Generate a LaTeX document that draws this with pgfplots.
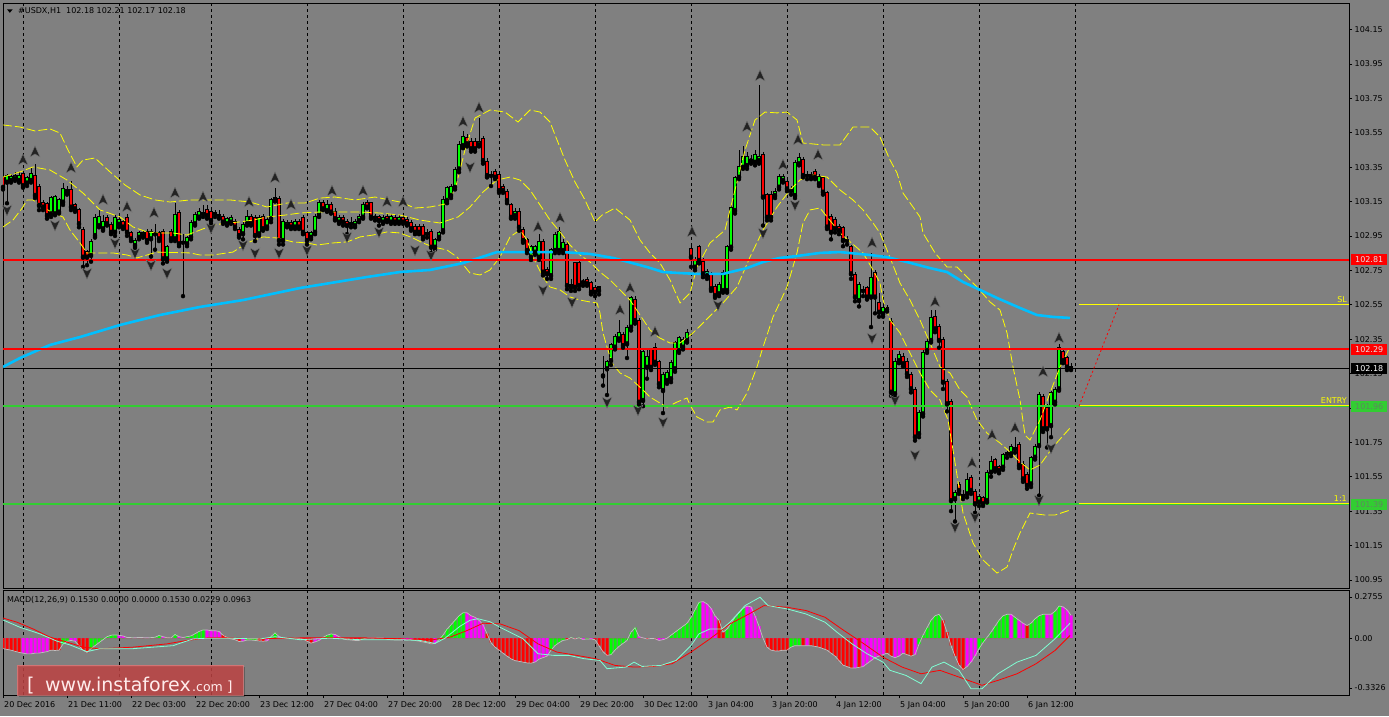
\documentclass[border=0pt]{standalone}
\usepackage{fontspec}
\setmainfont{DejaVu Sans}
\usepackage{pgfplots}
\usepackage{pgfplotstable}
\pgfplotsset{compat=1.18}
\newcommand{\lab}{\fontsize{8}{9.6}\selectfont}
\definecolor{bg}{RGB}{128,128,128}
\definecolor{bull}{RGB}{0,255,0}
\definecolor{bear}{RGB}{255,0,0}
\definecolor{mmag}{RGB}{255,0,255}
\definecolor{maline}{RGB}{0,191,255}
\definecolor{aqua}{RGB}{127,255,212}
\definecolor{silv}{RGB}{192,192,192}
\definecolor{lime2}{RGB}{50,205,50}
\definecolor{gtext}{RGB}{95,135,95}
\definecolor{yel}{RGB}{255,255,0}
\definecolor{wm}{RGB}{200,70,70}
\definecolor{frac}{RGB}{35,35,35}
\pgfdeclareplotmark{fup}{%
 \pgfpathmoveto{\pgfqpoint{0pt}{6pt}}%
 \pgfpathlineto{\pgfqpoint{5pt}{-5pt}}%
 \pgfpathlineto{\pgfqpoint{0pt}{-2pt}}%
 \pgfpathlineto{\pgfqpoint{-5pt}{-5pt}}%
 \pgfpathclose\pgfusepathqfillstroke}
\pgfdeclareplotmark{fdown}{%
 \pgfpathmoveto{\pgfqpoint{0pt}{-6pt}}%
 \pgfpathlineto{\pgfqpoint{5pt}{5pt}}%
 \pgfpathlineto{\pgfqpoint{0pt}{2pt}}%
 \pgfpathlineto{\pgfqpoint{-5pt}{5pt}}%
 \pgfpathclose\pgfusepathqfillstroke}

\pgfplotstableread[row sep=\\]{
x o h l c\\
3 103.29 103.31 103.22 103.235\\
7 103.265 103.31 103.14 103.30\\
11 103.275 103.31 103.26 103.29\\
15 103.285 103.32 103.27 103.30\\
19 103.275 103.32 103.26 103.30\\
23 103.31 103.33 103.23 103.245\\
27 103.26 103.30 103.24 103.285\\
31 103.275 103.35 103.26 103.31\\
35 103.30 103.37 103.17 103.188\\
39 103.235 103.25 103.10 103.13\\
43 103.14 103.16 103.10 103.12\\
47 103.135 103.15 103.05 103.071\\
51 103.081 103.18 103.06 103.168\\
55 103.081 103.19 103.07 103.178\\
59 103.091 103.17 103.08 103.159\\
63 103.149 103.26 103.13 103.22\\
67 103.217 103.24 103.19 103.207\\
71 103.217 103.27 103.10 103.12\\
75 103.13 103.14 103.09 103.11\\
79 103.10 103.11 103.00 103.023\\
83 102.984 103.00 102.77 102.829\\
87 102.858 102.87 102.78 102.829\\
91 102.839 102.93 102.80 102.916\\
95 102.955 103.08 102.94 103.052\\
99 103.013 103.10 103.00 103.062\\
103 102.994 103.07 102.98 103.033\\
107 103.052 103.07 103.01 103.023\\
111 103.013 103.03 102.96 102.974\\
115 102.974 103.07 102.95 103.052\\
119 103.02 103.06 103.00 103.04\\
123 103.033 103.05 102.99 103.004\\
127 103.052 103.08 102.95 102.974\\
131 102.965 102.98 102.92 102.936\\
135 102.897 102.94 102.88 102.92\\
139 102.945 102.98 102.93 102.965\\
143 102.955 102.98 102.94 102.965\\
147 102.974 102.99 102.91 102.926\\
151 102.936 102.99 102.83 102.974\\
155 102.965 103.02 102.87 102.965\\
159 102.965 102.98 102.92 102.936\\
163 102.974 102.99 102.79 102.819\\
167 102.819 102.90 102.80 102.887\\
171 102.974 102.99 102.92 102.936\\
175 102.936 103.14 102.92 103.071\\
179 103.081 103.10 102.89 102.907\\
183 102.916 102.96 102.60 102.916\\
187 102.907 102.95 102.89 102.936\\
191 102.945 103.04 102.93 103.023\\
195 103.023 103.09 103.01 103.071\\
199 103.062 103.11 103.05 103.091\\
203 103.081 103.13 103.06 103.081\\
207 103.10 103.13 103.05 103.071\\
211 103.091 103.11 103.02 103.042\\
215 103.081 103.10 103.06 103.081\\
219 103.071 103.10 103.05 103.071\\
223 103.062 103.08 103.02 103.033\\
227 103.023 103.06 103.01 103.046\\
231 103.033 103.07 103.02 103.052\\
235 103.033 103.05 102.99 103.004\\
239 102.984 103.00 102.94 102.955\\
243 102.965 103.03 102.93 103.013\\
247 103.023 103.10 103.01 103.062\\
251 103.062 103.08 103.01 103.023\\
255 103.052 103.07 102.92 102.955\\
259 102.965 103.07 102.95 103.052\\
263 103.062 103.08 102.98 102.994\\
267 103.004 103.06 102.99 103.042\\
271 103.052 103.17 103.03 103.159\\
275 103.168 103.23 103.15 103.159\\
279 103.163 103.18 102.90 102.926\\
283 102.926 103.05 102.90 103.033\\
287 103.013 103.04 103.00 103.023\\
291 103.023 103.04 102.99 103.004\\
295 103.004 103.05 102.99 103.033\\
299 103.033 103.05 102.99 103.004\\
303 103.052 103.07 102.96 102.974\\
307 102.965 102.98 102.90 102.926\\
311 102.945 102.98 102.93 102.965\\
315 102.974 103.08 102.96 103.062\\
319 103.071 103.16 103.06 103.139\\
323 103.139 103.16 103.10 103.11\\
327 103.10 103.16 103.09 103.13\\
331 103.13 103.15 103.08 103.091\\
335 103.091 103.11 103.04 103.052\\
339 103.033 103.07 103.02 103.052\\
343 103.052 103.07 103.01 103.033\\
347 103.033 103.05 102.96 103.013\\
351 103.023 103.06 103.00 103.023\\
355 103.013 103.05 103.00 103.033\\
359 103.042 103.08 103.03 103.062\\
363 103.062 103.15 103.05 103.13\\
367 103.139 103.16 103.11 103.12\\
371 103.139 103.15 103.05 103.062\\
375 103.062 103.08 103.04 103.062\\
379 103.062 103.07 103.01 103.042\\
383 103.033 103.07 103.02 103.052\\
387 103.062 103.08 103.03 103.042\\
391 103.033 103.08 103.02 103.062\\
395 103.052 103.07 103.02 103.033\\
399 103.033 103.07 103.02 103.052\\
403 103.052 103.07 103.02 103.033\\
407 103.042 103.06 103.01 103.023\\
411 103.023 103.04 102.98 102.994\\
415 103.004 103.02 102.96 102.974\\
419 103.004 103.02 102.96 102.974\\
423 103.004 103.02 102.93 102.945\\
427 102.965 102.99 102.94 102.965\\
431 102.974 102.99 102.85 102.887\\
435 102.887 102.94 102.87 102.926\\
439 102.945 102.98 102.93 102.965\\
443 102.984 103.18 102.97 103.159\\
447 103.159 103.24 103.14 103.226\\
451 103.188 103.25 103.17 103.235\\
455 103.235 103.35 103.22 103.333\\
459 103.342 103.50 103.32 103.478\\
463 103.478 103.56 103.46 103.527\\
467 103.517 103.54 103.47 103.488\\
471 103.497 103.52 103.44 103.459\\
475 103.497 103.52 103.44 103.459\\
479 103.482 103.633 103.47 103.497\\
483 103.511 103.53 103.37 103.391\\
487 103.381 103.40 103.29 103.304\\
491 103.304 103.33 103.24 103.304\\
495 103.323 103.34 103.28 103.294\\
499 103.304 103.32 103.20 103.216\\
503 103.236 103.25 103.20 103.216\\
507 103.207 103.22 103.14 103.158\\
511 103.129 103.14 103.05 103.061\\
515 103.071 103.11 103.05 103.09\\
519 103.09 103.11 102.98 103.003\\
523 102.984 103.00 102.91 102.926\\
527 102.926 102.94 102.85 102.868\\
531 102.829 102.90 102.81 102.887\\
535 102.858 102.90 102.84 102.887\\
539 102.829 102.96 102.81 102.916\\
543 102.916 102.93 102.72 102.742\\
547 102.751 102.77 102.70 102.732\\
551 102.722 102.88 102.70 102.868\\
555 102.868 102.97 102.85 102.955\\
559 102.868 103.00 102.85 102.974\\
563 102.868 102.93 102.85 102.906\\
567 102.897 102.92 102.64 102.664\\
571 102.664 102.70 102.63 102.654\\
575 102.79 102.80 102.63 102.654\\
579 102.79 102.81 102.64 102.664\\
583 102.684 102.70 102.66 102.682\\
587 102.693 102.71 102.66 102.674\\
591 102.674 102.69 102.61 102.625\\
595 102.645 102.66 102.60 102.625\\
599 102.635 102.66 102.61 102.65\\
603 102.143 102.25 102.08 102.139\\
607 102.18 102.23 102.025 102.218\\
611 102.228 102.33 102.20 102.315\\
615 102.306 102.38 102.29 102.364\\
619 102.354 102.46 102.34 102.383\\
623 102.373 102.39 102.30 102.315\\
627 102.325 102.43 102.24 102.412\\
631 102.422 102.60 102.40 102.587\\
635 102.577 102.60 102.44 102.461\\
639 102.457 102.47 101.97 101.986\\
643 101.996 102.29 101.96 102.277\\
647 102.189 102.30 102.12 102.247\\
651 102.286 102.30 102.17 102.189\\
655 102.296 102.33 102.20 102.218\\
659 102.218 102.23 102.07 102.092\\
663 102.054 102.16 101.92 102.141\\
667 102.112 102.17 102.09 102.151\\
671 102.122 102.23 102.10 102.209\\
675 102.18 102.34 102.16 102.325\\
679 102.286 102.37 102.27 102.354\\
683 102.306 102.36 102.29 102.344\\
687 102.344 102.41 102.33 102.383\\
691 102.874 102.91 102.77 102.829\\
695 102.771 102.83 102.75 102.81\\
699 102.887 102.90 102.79 102.81\\
703 102.80 102.82 102.71 102.732\\
707 102.722 102.76 102.70 102.742\\
711 102.722 102.74 102.63 102.645\\
715 102.654 102.67 102.59 102.606\\
719 102.616 102.68 102.60 102.664\\
723 102.635 102.75 102.62 102.732\\
727 102.635 102.90 102.62 102.887\\
731 102.887 103.13 102.87 103.11\\
735 103.10 103.30 103.08 103.284\\
739 103.294 103.45 103.28 103.352\\
743 103.352 103.47 103.34 103.41\\
747 103.362 103.44 103.34 103.41\\
751 103.389 103.42 103.37 103.393\\
755 103.381 103.45 103.36 103.42\\
759 103.391 103.83 103.37 103.41\\
763 103.42 103.44 103.01 103.178\\
767 103.187 103.20 103.04 103.061\\
771 103.187 103.21 103.04 103.061\\
775 103.187 103.23 103.17 103.207\\
779 103.236 103.31 103.22 103.294\\
783 103.275 103.31 103.26 103.294\\
787 103.265 103.28 103.21 103.226\\
791 103.216 103.24 103.19 103.216\\
795 103.187 103.39 103.17 103.372\\
799 103.372 103.43 103.36 103.401\\
803 103.391 103.41 103.29 103.304\\
807 103.304 103.33 103.28 103.304\\
811 103.304 103.32 103.28 103.294\\
815 103.323 103.34 103.28 103.294\\
819 103.255 103.31 103.24 103.294\\
823 103.284 103.30 103.19 103.207\\
827 103.197 103.21 102.99 103.004\\
831 103.062 103.08 102.93 102.974\\
835 103.042 103.06 102.97 102.994\\
839 103.004 103.02 102.96 102.984\\
843 102.994 103.01 102.89 102.926\\
847 102.926 102.95 102.90 102.926\\
851 102.887 102.90 102.70 102.732\\
855 102.723 102.74 102.57 102.597\\
859 102.577 102.68 102.54 102.664\\
863 102.635 102.66 102.60 102.635\\
867 102.645 102.66 102.58 102.597\\
871 102.597 102.85 102.42 102.703\\
875 102.732 102.75 102.50 102.597\\
879 102.558 102.62 102.48 102.509\\
883 102.50 102.55 102.48 102.529\\
887 102.529 102.55 102.51 102.529\\
891 102.451 102.47 102.02 102.044\\
895 102.035 102.24 102.01 102.219\\
899 102.228 102.28 102.21 102.257\\
903 102.248 102.27 102.19 102.209\\
907 102.219 102.24 102.13 102.151\\
911 102.141 102.16 102.04 102.064\\
915 102.054 102.07 101.76 101.783\\
919 101.802 101.94 101.78 101.918\\
923 101.918 102.29 101.90 102.267\\
927 102.287 102.36 102.27 102.335\\
931 102.345 102.52 102.33 102.471\\
935 102.48 102.52 102.39 102.412\\
939 102.422 102.44 102.30 102.345\\
943 102.345 102.36 102.06 102.102\\
947 102.102 102.12 101.93 101.976\\
951 101.986 102.00 101.35 101.414\\
955 101.424 101.47 101.29 101.453\\
959 101.502 101.52 101.45 101.473\\
963 101.443 101.47 101.42 101.443\\
967 101.453 101.57 101.43 101.531\\
971 101.54 101.56 101.45 101.473\\
975 101.463 101.48 101.34 101.395\\
979 101.405 101.45 101.38 101.434\\
983 101.424 101.44 101.38 101.395\\
987 101.414 101.59 101.40 101.569\\
991 101.579 101.67 101.55 101.637\\
995 101.647 101.66 101.58 101.599\\
999 101.608 101.62 101.57 101.589\\
1003 101.608 101.69 101.59 101.676\\
1007 101.686 101.70 101.66 101.686\\
1011 101.686 101.74 101.67 101.724\\
1015 101.715 101.78 101.69 101.715\\
1019 101.734 101.75 101.60 101.618\\
1023 101.618 101.64 101.52 101.54\\
1027 101.56 101.58 101.48 101.502\\
1031 101.511 101.67 101.49 101.657\\
1035 101.666 101.74 101.65 101.724\\
1039 101.734 102.04 101.44 102.025\\
1043 102.015 102.03 101.81 101.831\\
1047 101.947 101.97 101.72 101.831\\
1051 101.85 102.05 101.78 102.035\\
1055 101.986 102.07 101.97 102.054\\
1059 102.064 102.32 102.05 102.296\\
1063 102.277 102.30 102.21 102.228\\
1067 102.238 102.25 102.17 102.19\\
1071 102.18 102.21 102.17 102.185\\
}\candles

\pgfplotstableread[row sep=\\]{
x y\\
23 103.391\\ 35 103.438\\ 71 103.345\\ 103 103.159\\ 127 103.118\\ 154 103.083\\
175 103.199\\ 203 103.176\\ 249 103.147\\ 275 103.287\\ 291 103.130\\ 332 103.211\\
363 103.211\\ 387 103.147\\ 403 103.147\\ 463 103.612\\ 479 103.694\\ 538 103.002\\
560 103.054\\ 620 102.519\\ 630 102.647\\ 655 102.391\\ 692 102.973\\ 747 103.583\\
760 103.880\\ 783 103.362\\ 798 103.508\\ 818 103.420\\ 872 102.909\\ 935 102.566\\
972 101.630\\ 992 101.792\\ 1015 101.833\\ 1043 102.159\\ 1059 102.356\\
}\fup

\pgfplotstableread[row sep=\\]{
x y\\
7 103.101\\ 55 103.013\\ 87 102.734\\ 115 102.909\\ 135 102.851\\ 151 102.781\\
167 102.734\\ 211 102.996\\ 243 102.897\\ 255 102.851\\ 279 102.851\\ 307 102.868\\
347 102.944\\ 379 102.973\\ 415 102.868\\ 431 102.839\\ 470 103.351\\ 543 102.635\\
572 102.566\\ 607 101.984\\ 638 101.938\\ 663 101.868\\ 718 102.548\\ 763 102.967\\
795 103.130\\ 872 102.356\\ 895 101.996\\ 915 101.676\\ 955 101.258\\ 975 101.316\\
1039 101.415\\ 1051 101.717\\
}\fdown

\pgfplotstableread[row sep=\\]{
x y\\
3 103.595\\ 20 103.583\\ 35 103.560\\ 50 103.572\\ 60 103.548\\ 68 103.449\\ 77 103.351\\
83 103.391\\ 95 103.403\\ 110 103.322\\ 125 103.246\\ 140 103.188\\ 155 103.159\\ 170 103.147\\
190 103.159\\ 210 103.159\\ 230 103.159\\ 250 103.147\\ 267 103.118\\ 287 103.141\\ 305 103.141\\
320 103.170\\ 335 103.176\\ 355 103.159\\ 375 103.176\\ 400 103.147\\ 415 103.112\\ 430 103.118\\
445 103.135\\ 455 103.217\\ 465 103.449\\ 475 103.635\\ 490 103.682\\ 505 103.670\\ 518 103.612\\
530 103.682\\ 540 103.670\\ 550 103.612\\ 557 103.508\\ 565 103.391\\ 575 103.263\\ 585 103.159\\
595 103.031\\ 602 103.071\\ 615 103.112\\ 630 103.042\\ 640 102.926\\ 650 102.851\\ 660 102.792\\
670 102.694\\ 680 102.560\\ 690 102.618\\ 697 102.769\\ 710 102.909\\ 725 102.984\\ 735 103.217\\
745 103.449\\ 755 103.624\\ 765 103.670\\ 777 103.665\\ 787 103.670\\ 797 103.624\\ 803 103.490\\
823 103.479\\ 840 103.479\\ 853 103.583\\ 870 103.583\\ 880 103.525\\ 890 103.391\\ 897 103.316\\
903 103.199\\ 913 103.118\\ 920 103.060\\ 923 102.967\\ 935 102.851\\ 947 102.769\\ 957 102.769\\
967 102.711\\ 977 102.653\\ 990 102.566\\ 1000 102.519\\ 1007 102.386\\ 1013 102.188\\ 1020 101.996\\
1025 101.792\\ 1030 101.763\\ 1040 101.880\\ 1050 102.037\\ 1060 102.188\\ 1070 102.304\\
}\bbu

\pgfplotstableread[row sep=\\]{
x y\\
3 103.292\\ 20 103.322\\ 33 103.351\\ 50 103.333\\ 67 103.275\\ 83 103.199\\ 100 103.101\\
120 103.060\\ 133 103.002\\ 147 102.973\\ 160 102.967\\ 173 102.967\\ 187 102.955\\ 200 102.984\\
213 103.013\\ 227 103.025\\ 240 103.031\\ 253 103.042\\ 267 103.060\\ 285 103.071\\ 300 103.083\\
320 103.089\\ 340 103.089\\ 360 103.089\\ 380 103.083\\ 400 103.071\\ 420 103.042\\ 440 103.025\\
458 103.060\\ 470 103.118\\ 483 103.205\\ 497 103.275\\ 510 103.292\\ 520 103.275\\ 530 103.217\\
540 103.130\\ 550 103.042\\ 560 102.973\\ 570 102.897\\ 580 102.839\\ 590 102.798\\ 600 102.740\\
610 102.694\\ 620 102.636\\ 630 102.577\\ 640 102.490\\ 650 102.403\\ 660 102.356\\ 670 102.327\\
680 102.327\\ 693 102.386\\ 708 102.473\\ 723 102.560\\ 737 102.653\\ 750 102.827\\ 763 102.984\\
777 103.118\\ 790 103.217\\ 800 103.275\\ 813 103.304\\ 827 103.292\\ 840 103.217\\ 853 103.159\\
863 103.101\\ 873 103.025\\ 880 102.967\\ 887 102.868\\ 900 102.676\\ 910 102.577\\ 920 102.461\\
933 102.287\\ 940 102.188\\ 950 102.153\\ 960 102.054\\ 967 102.013\\ 977 101.880\\ 987 101.804\\
1000 101.746\\ 1010 101.694\\ 1020 101.636\\ 1030 101.589\\ 1040 101.618\\ 1053 101.723\\ 1070 101.833\\
}\bbm

\pgfplotstableread[row sep=\\]{
x y\\
3 103.002\\ 13 103.042\\ 23 103.118\\ 27 103.159\\ 33 103.159\\ 43 103.118\\ 53 103.083\\
63 103.060\\ 70 102.984\\ 80 102.909\\ 87 102.851\\ 100 102.851\\ 113 102.851\\ 127 102.839\\
137 102.822\\ 147 102.839\\ 157 102.856\\ 190 102.851\\ 200 102.839\\ 213 102.839\\ 227 102.851\\
233 102.856\\ 247 102.909\\ 263 102.944\\ 277 102.938\\ 293 102.915\\ 307 102.909\\ 317 102.897\\
333 102.909\\ 347 102.915\\ 360 102.944\\ 373 102.955\\ 387 102.973\\ 400 102.967\\ 413 102.938\\
423 102.909\\ 433 102.886\\ 447 102.868\\ 457 102.827\\ 470 102.734\\ 480 102.723\\ 490 102.752\\
500 102.827\\ 510 102.944\\ 520 102.984\\ 527 102.926\\ 533 102.827\\ 543 102.711\\ 550 102.653\\
560 102.636\\ 570 102.595\\ 580 102.577\\ 590 102.566\\ 597 102.560\\ 600 102.502\\ 603 102.386\\
607 102.304\\ 612 102.211\\ 620 102.153\\ 630 102.124\\ 643 102.054\\ 650 102.013\\ 660 101.978\\
667 101.955\\ 677 101.984\\ 687 102.008\\ 690 101.967\\ 697 101.897\\ 707 101.868\\ 713 101.868\\
720 101.938\\ 730 101.955\\ 737 101.938\\ 747 102.037\\ 757 102.188\\ 763 102.304\\ 773 102.478\\
787 102.653\\ 797 102.851\\ 803 103.025\\ 810 103.101\\ 820 103.112\\ 840 102.967\\ 863 102.851\\
873 102.752\\ 880 102.676\\ 883 102.577\\ 890 102.461\\ 900 102.386\\ 910 102.269\\ 920 102.153\\
930 102.054\\ 940 101.996\\ 948 101.880\\ 953 101.705\\ 963 101.339\\ 973 101.165\\ 983 101.066\\
997 100.990\\ 1007 101.025\\ 1013 101.124\\ 1020 101.223\\ 1030 101.339\\ 1045 101.327\\ 1055 101.327\\
1070 101.356\\
}\bbl

\pgfplotstableread[row sep=\\]{
x y\\
3 102.188\\ 20 102.240\\ 50 102.316\\ 80 102.362\\ 120 102.432\\ 160 102.490\\ 200 102.537\\
243 102.577\\ 300 102.647\\ 367 102.711\\ 400 102.740\\ 430 102.752\\ 463 102.792\\ 497 102.856\\
530 102.856\\ 563 102.856\\ 590 102.845\\ 613 102.822\\ 647 102.769\\ 663 102.740\\ 680 102.734\\
697 102.729\\ 723 102.729\\ 747 102.763\\ 763 102.798\\ 780 102.822\\ 797 102.833\\ 820 102.851\\
840 102.856\\ 870 102.839\\ 887 102.827\\ 907 102.798\\ 930 102.763\\ 947 102.740\\ 963 102.682\\
980 102.636\\ 997 102.589\\ 1020 102.531\\ 1037 102.490\\ 1053 102.479\\ 1070 102.473\\
}\sma

\pgfplotstableread[row sep=\\]{
x v c\\
3 -0.07 2\\ 7 -0.075 2\\ 11 -0.08 2\\ 15 -0.088 2\\ 19 -0.095 2\\ 23 -0.10 3\\ 27 -0.105 3\\
31 -0.105 3\\ 35 -0.10 3\\ 39 -0.10 3\\ 43 -0.095 3\\ 47 -0.09 3\\ 51 -0.08 2\\ 55 -0.082 2\\
59 -0.08 2\\ 63 -0.04 1\\ 67 -0.02 1\\ 71 -0.015 3\\ 75 -0.02 3\\ 79 -0.05 2\\ 83 -0.08 2\\
87 -0.095 2\\ 91 -0.07 1\\ 95 -0.05 1\\ 99 -0.03 1\\ 103 -0.01 1\\ 107 0.01 1\\ 111 0.02 1\\
115 0.022 1\\ 119 0.02 3\\ 123 0.015 3\\ 127 0.005 3\\ 131 0.004 1\\ 135 0.003 3\\ 139 0.005 1\\
143 0.004 3\\ 147 0.003 3\\ 151 0.004 1\\ 155 0.006 1\\ 159 0.018 1\\ 163 0.01 3\\ 167 0.003 2\\
171 0.002 2\\ 175 0.025 1\\ 179 0.01 3\\ 183 0.005 3\\ 187 0.01 1\\ 191 0.015 1\\ 195 0.03 1\\
199 0.045 1\\ 203 0.055 1\\ 207 0.055 3\\ 211 0.05 3\\ 215 0.05 3\\ 219 0.045 3\\ 223 0.02 2\\
227 0.005 2\\ 231 -0.005 2\\ 235 -0.01 2\\ 239 -0.022 2\\ 243 -0.02 3\\ 247 -0.012 1\\ 251 -0.012 1\\
255 -0.015 1\\ 259 -0.018 2\\ 263 -0.02 2\\ 267 -0.018 3\\ 271 0.01 1\\ 275 0.036 1\\ 279 0.01 3\\
283 0.002 3\\ 287 -0.003 2\\ 291 -0.003 2\\ 295 0.002 1\\ 299 -0.002 2\\ 303 -0.005 2\\ 307 -0.02 2\\
311 -0.033 2\\ 315 -0.025 3\\ 319 -0.015 3\\ 323 0.005 1\\ 327 0.02 1\\ 331 0.028 1\\ 335 0.025 3\\
339 0.01 3\\ 343 -0.005 2\\ 347 -0.01 2\\ 351 -0.012 2\\ 355 -0.015 2\\ 359 -0.015 2\\ 363 -0.005 1\\
367 0.002 1\\ 371 0.002 3\\ 375 0.001 3\\ 379 0.002 1\\ 383 0.002 3\\ 387 -0.008 2\\ 391 -0.01 2\\
395 -0.012 2\\ 399 -0.012 2\\ 403 -0.013 3\\ 407 -0.012 3\\ 411 -0.01 3\\ 415 -0.015 2\\ 419 -0.02 2\\
423 -0.025 2\\ 427 -0.03 2\\ 431 -0.038 2\\ 435 -0.035 3\\ 439 -0.01 1\\ 443 0.02 1\\ 447 0.06 1\\
451 0.09 1\\ 455 0.12 1\\ 459 0.15 1\\ 463 0.17 1\\ 467 0.17 3\\ 471 0.15 3\\ 475 0.14 3\\
479 0.12 3\\ 483 0.09 3\\ 487 0.03 2\\ 491 -0.03 2\\ 495 -0.06 2\\ 499 -0.08 2\\ 503 -0.10 2\\
507 -0.12 2\\ 511 -0.138 2\\ 515 -0.15 2\\ 519 -0.155 2\\ 523 -0.16 2\\ 527 -0.165 2\\ 531 -0.167 2\\
535 -0.16 3\\ 539 -0.14 3\\ 543 -0.13 3\\ 547 -0.12 3\\ 551 -0.08 1\\ 555 -0.05 1\\ 559 -0.03 1\\
563 -0.015 1\\ 567 -0.01 2\\ 571 0.005 1\\ 575 -0.005 2\\ 579 0.003 1\\ 583 -0.008 3\\ 587 -0.005 1\\
591 -0.005 3\\ 595 -0.01 2\\ 599 -0.05 2\\ 603 -0.09 2\\ 607 -0.115 2\\ 611 -0.11 1\\ 615 -0.08 1\\
619 -0.055 1\\ 623 -0.035 1\\ 627 -0.015 1\\ 631 0.04 1\\ 635 0.07 1\\ 639 0.01 3\\ 643 0.002 3\\
647 -0.005 2\\ 651 -0.002 2\\ 655 -0.003 2\\ 659 -0.015 3\\ 663 -0.01 3\\ 667 0.0 1\\ 671 0.02 1\\
675 0.04 1\\ 679 0.06 1\\ 683 0.08 1\\ 687 0.10 1\\ 691 0.14 1\\ 695 0.19 1\\ 699 0.24 1\\
703 0.245 3\\ 707 0.23 3\\ 711 0.2 3\\ 715 0.15 3\\ 719 0.12 2\\ 723 0.04 2\\ 727 0.06 1\\
731 0.1 1\\ 735 0.14 1\\ 739 0.17 1\\ 743 0.2 1\\ 747 0.215 3\\ 751 0.21 3\\ 755 0.15 3\\
759 0.08 3\\ 763 0.0 2\\ 767 -0.06 2\\ 771 -0.08 2\\ 775 -0.085 2\\ 779 -0.085 2\\ 783 -0.08 2\\
787 -0.08 2\\ 791 -0.06 1\\ 795 -0.05 1\\ 799 -0.05 1\\ 803 -0.05 2\\ 807 -0.05 3\\ 811 -0.05 2\\
815 -0.055 2\\ 819 -0.06 2\\ 823 -0.07 2\\ 827 -0.08 2\\ 831 -0.10 2\\ 835 -0.12 2\\ 839 -0.15 2\\
843 -0.18 2\\ 847 -0.19 2\\ 851 -0.2 2\\ 855 -0.2 3\\ 859 -0.195 2\\ 863 -0.19 3\\ 867 -0.17 3\\
871 -0.15 3\\ 875 -0.13 3\\ 879 -0.12 3\\ 883 -0.11 3\\ 887 -0.1 2\\ 891 -0.12 2\\ 895 -0.13 3\\
899 -0.12 3\\ 903 -0.1 3\\ 907 -0.11 2\\ 911 -0.12 2\\ 915 -0.11 3\\ 919 -0.04 1\\ 923 0.02 1\\
927 0.07 1\\ 931 0.12 1\\ 935 0.15 1\\ 939 0.16 1\\ 943 0.12 2\\ 947 0.04 2\\ 951 -0.05 2\\
955 -0.12 2\\ 959 -0.18 2\\ 963 -0.21 2\\ 967 -0.19 3\\ 971 -0.16 3\\ 975 -0.12 3\\ 979 -0.07 1\\
983 -0.03 1\\ 987 0.005 1\\ 991 0.04 1\\ 995 0.08 1\\ 999 0.12 1\\ 1003 0.15 1\\ 1007 0.16 1\\
1011 0.16 3\\ 1015 0.14 1\\ 1019 0.12 3\\ 1023 0.10 3\\ 1027 0.085 2\\ 1031 0.1 1\\ 1035 0.13 1\\
1039 0.15 1\\ 1043 0.16 1\\ 1047 0.16 3\\ 1051 0.16 3\\ 1055 0.18 1\\ 1059 0.215 1\\ 1063 0.21 3\\
1067 0.19 3\\ 1071 0.153 3\\
}\hist

\pgfplotstableread[row sep=\\]{
x y\\
3 0.122\\ 20 0.073\\ 40 0.029\\ 57 -0.02\\ 70 -0.045\\ 87 -0.09\\ 100 -0.07\\ 133 -0.07\\
173 -0.05\\ 193 -0.005\\ 207 0.0\\ 227 0.0\\ 260 -0.005\\ 275 0.01\\ 300 -0.01\\ 330 0.0\\
360 -0.01\\ 400 -0.01\\ 420 -0.015\\ 435 -0.035\\ 445 0.0\\ 460 0.08\\ 470 0.12\\ 478 0.13\\
490 0.11\\ 500 0.073\\ 523 -0.004\\ 538 -0.104\\ 554 -0.115\\ 569 -0.115\\ 584 -0.137\\ 600 -0.149\\
607 -0.204\\ 626 -0.193\\ 634 -0.16\\ 642 -0.189\\ 661 -0.182\\ 676 -0.149\\ 691 -0.049\\ 699 0.029\\
710 0.062\\ 722 0.062\\ 730 0.107\\ 745 0.218\\ 760 0.274\\ 768 0.218\\ 787 0.196\\ 806 0.162\\
825 0.107\\ 837 0.04\\ 852 -0.038\\ 867 -0.104\\ 883 -0.16\\ 890 -0.215\\ 906 -0.249\\ 921 -0.304\\
932 -0.193\\ 944 -0.16\\ 959 -0.215\\ 971 -0.338\\ 982 -0.338\\ 998 -0.238\\ 1017 -0.16\\ 1036 -0.115\\
1055 -0.004\\ 1070 0.1\\
}\macdmain

\pgfplotstableread[row sep=\\]{
x y\\
3 0.135\\ 17 0.107\\ 33 0.062\\ 50 0.007\\ 67 -0.026\\ 83 -0.06\\ 100 -0.071\\ 133 -0.06\\
167 -0.038\\ 187 -0.015\\ 207 0.002\\ 227 0.002\\ 253 -0.004\\ 300 0.002\\ 333 0.002\\ 367 0.002\\
400 -0.004\\ 433 -0.01\\ 450 0.007\\ 467 0.051\\ 483 0.1\\ 500 0.096\\ 519 0.051\\ 538 -0.038\\
557 -0.093\\ 577 -0.115\\ 596 -0.138\\ 615 -0.182\\ 634 -0.193\\ 653 -0.189\\ 672 -0.171\\ 691 -0.093\\
710 -0.004\\ 730 0.096\\ 749 0.162\\ 764 0.218\\ 787 0.207\\ 806 0.185\\ 825 0.14\\ 844 0.051\\
864 -0.038\\ 883 -0.127\\ 902 -0.193\\ 921 -0.238\\ 940 -0.215\\ 959 -0.26\\ 982 -0.315\\ 998 -0.282\\
1017 -0.238\\ 1036 -0.171\\ 1055 -0.082\\ 1070 0.018\\
}\macdsig

\begin{document}
\begin{tikzpicture}[x=1pt,y=1pt]
\path[use as bounding box] (0,0) rectangle (1389,716);
\fill[bg] (0,0) rectangle (1389,716);

\begin{axis}[
  at={(3pt,128pt)}, anchor=south west, scale only axis,
  width=1346pt, height=585pt,
  xmin=3, xmax=1349, ymin=100.903, ymax=104.304,
  axis line style={black, line width=0.8pt},
  xtick={23,119,211,307,403,499,595,691,787,883,979,1075},
  xticklabels={}, xtick style={draw=none},
  xmajorgrids, major grid style={black, line width=0.6pt, dash pattern=on 3pt off 3pt},
  ytick={100.95,101.15,101.35,101.55,101.75,101.95,102.15,102.35,102.55,102.75,102.95,103.15,103.35,103.55,103.75,103.95,104.15},
  yticklabels={100.95,101.15,101.35,101.55,101.75,{},102.15,102.35,102.55,102.75,102.95,103.15,103.35,103.55,103.75,103.95,104.15},
  ytick pos=right, yticklabel pos=right,
  tick align=outside, major tick length=3pt,
  ytick style={black, line width=0.6pt},
  yticklabel style={font=\lab, anchor=west, inner sep=0pt, xshift=2.5pt},
]
% wicks
\addplot[only marks, mark=none, error bars/.cd, y dir=plus, y explicit, error mark=none,
  error bar style={draw=black, line width=0.8pt}]
  table[x=x, y=l, y error plus expr={\thisrow{h}-\thisrow{l}}] {\candles};
% body outlines
\addplot[only marks, mark=none, error bars/.cd, y dir=plus, y explicit, error mark=none,
  error bar style={draw=black, line width=3.4pt}]
  table[x=x, y expr={min(\thisrow{o},\thisrow{c})-0.006}, y error plus expr={abs(\thisrow{c}-\thisrow{o})+0.012}] {\candles};
% bull bodies
\addplot[only marks, mark=none, restrict expr to domain={\thisrow{c}-\thisrow{o}}{0.0001:10},
  error bars/.cd, y dir=plus, y explicit, error mark=none,
  error bar style={draw=bull, line width=1.6pt}]
  table[x=x, y=o, y error plus expr={\thisrow{c}-\thisrow{o}}] {\candles};
% bear bodies
\addplot[only marks, mark=none, restrict expr to domain={\thisrow{o}-\thisrow{c}}{0.0001:10},
  error bars/.cd, y dir=plus, y explicit, error mark=none,
  error bar style={draw=bear, line width=1.6pt}]
  table[x=x, y=c, y error plus expr={\thisrow{o}-\thisrow{c}}] {\candles};
% indicators
\addplot[yel, line width=0.8pt, dash pattern=on 9pt off 3pt] table {\bbu};
\addplot[yel, line width=0.8pt, dash pattern=on 9pt off 3pt] table {\bbm};
\addplot[yel, line width=0.8pt, dash pattern=on 9pt off 3pt] table {\bbl};
\addplot[maline, line width=2.6pt] table {\sma};
% fractals
\addplot[only marks, mark=fup, mark options={fill=frac, draw=black!55, line width=0.4pt}] table {\fup};
\addplot[only marks, mark=fdown, mark options={fill=frac, draw=black!55, line width=0.4pt}] table {\fdown};
% horizontal levels
\addplot[bear, line width=2pt] coordinates {(3,102.81) (1349,102.81)};
\addplot[bear, line width=2pt] coordinates {(3,102.29) (1349,102.29)};
\addplot[black, line width=0.8pt] coordinates {(3,102.18) (1349,102.18)};
\addplot[lime2, line width=2pt] coordinates {(3,101.96) (1349,101.96)};
\addplot[lime2, line width=2pt] coordinates {(3,101.39) (1349,101.39)};
\addplot[yel, line width=1pt] coordinates {(1079,102.55) (1349,102.55)};
\addplot[yel, line width=1pt] coordinates {(1079,101.964) (1349,101.964)};
\addplot[yel, line width=1pt] coordinates {(1079,101.394) (1349,101.394)};
\addplot[bear, line width=0.8pt, dash pattern=on 2pt off 2.5pt] coordinates {(1079,101.96) (1119,102.55)};
\node[anchor=base east, inner sep=0pt, font=\lab, text=yel] at (axis cs:1347,102.56) {SL};
\node[anchor=base east, inner sep=0pt, font=\lab, text=yel] at (axis cs:1347,101.975) {ENTRY};
\node[anchor=base east, inner sep=0pt, font=\lab, text=yel] at (axis cs:1347,101.405) {1:1};
\coordinate (p1) at (axis cs:1349,102.81);
\coordinate (p2) at (axis cs:1349,102.29);
\coordinate (p3) at (axis cs:1349,102.18);
\coordinate (p4) at (axis cs:1349,101.96);
\coordinate (p5) at (axis cs:1349,101.39);
\end{axis}

\begin{axis}[
  at={(3pt,21pt)}, anchor=south west, scale only axis,
  width=1346pt, height=105pt,
  xmin=3, xmax=1349, ymin=-0.380, ymax=0.3224,
  axis line style={black, line width=0.8pt},
  xtick={3,67,131,195,259,323,387,451,515,579,643,707,771,835,899,963,1027},
  xticklabels={}, xtick pos=left,
  extra x ticks={23,119,211,307,403,499,595,691,787,883,979,1075},
  extra x tick labels={},
  extra x tick style={grid=major, major tick length=0pt},
  major grid style={black, line width=0.6pt, dash pattern=on 3pt off 3pt},
  ytick={-0.3326,0,0.2755}, yticklabels={-0.3326,0.00,0.2755},
  ytick pos=right, yticklabel pos=right,
  tick align=outside, major tick length=3pt,
  tick style={black, line width=0.6pt},
  yticklabel style={font=\lab, anchor=west, inner sep=0pt, xshift=2.5pt},
]
\addplot[ybar, bar width=3, bar shift=0pt, fill=bull, draw=none]
  table[x=x, y expr={(\thisrow{c}==1)*\thisrow{v}}] {\hist};
\addplot[ybar, bar width=3, bar shift=0pt, fill=bear, draw=none]
  table[x=x, y expr={(\thisrow{c}==2)*\thisrow{v}}] {\hist};
\addplot[ybar, bar width=3, bar shift=0pt, fill=mmag, draw=none]
  table[x=x, y expr={(\thisrow{c}==3)*\thisrow{v}}] {\hist};
\addplot[silv, line width=0.7pt] table[x=x, y=v] {\hist};
\addplot[bear, line width=0.8pt] table {\macdsig};
\addplot[aqua, line width=0.8pt] table {\macdmain};
\end{axis}

% price boxes on the right axis
\node[anchor=west, fill=bear, text=white!80!gray, minimum width=36pt, minimum height=11pt, inner sep=0pt, font=\lab] at ([xshift=2pt]p1) {102.81};
\node[anchor=west, fill=bear, text=white!80!gray, minimum width=36pt, minimum height=11pt, inner sep=0pt, font=\lab] at ([xshift=2pt]p2) {102.29};
\node[anchor=west, fill=black, text=white, minimum width=36pt, minimum height=11pt, inner sep=0pt, font=\lab] at ([xshift=2pt]p3) {102.18};
\node[anchor=west, fill=lime2, text=gtext, minimum width=36pt, minimum height=11pt, inner sep=0pt, font=\lab] at ([xshift=2pt]p4) {101.96};
\node[anchor=west, fill=lime2, text=gtext, minimum width=36pt, minimum height=11pt, inner sep=0pt, font=\lab] at ([xshift=2pt]p5) {101.39};

% header texts
\fill[black] (7,706.7) -- (12.7,706.7) -- (9.85,703.2) -- cycle;
\node[anchor=base west, inner sep=0pt, font=\lab] at (18,702.3) {\#USDX,H1\ \ 102.18 102.21 102.17 102.18};
\node[anchor=base west, inner sep=0pt, font=\lab] at (7,113.5) {MACD(12,26,9) 0.1530 0.0000 0.0000 0.1530 0.0229 0.0963};

% date labels
\foreach \xx/\lbl in {3/20 Dec 2016, 67/21 Dec 11:00, 131/22 Dec 03:00, 195/22 Dec 20:00, 259/23 Dec 12:00, 323/27 Dec 04:00, 387/27 Dec 20:00, 451/28 Dec 12:00, 515/29 Dec 04:00, 579/29 Dec 20:00, 643/30 Dec 12:00, 707/3 Jan 04:00, 771/3 Jan 20:00, 835/4 Jan 12:00, 899/5 Jan 04:00, 963/5 Jan 20:00, 1027/6 Jan 12:00}
  {\node[anchor=base west, inner sep=0pt, font=\lab] at (\xx+1,8.5) {\lbl};}

% watermark
\fill[black, opacity=0.25] (19,19) rectangle (245,49);
\fill[wm, opacity=0.8] (17,21) rectangle (243,51);
\draw[white!30!wm, opacity=0.8, line width=0.8pt] (17,21) rectangle (243,51);
\node[anchor=base west, inner sep=0pt, text=white!92!red, font=\fontsize{19}{20}\selectfont] at (27,24.5) {[};
\node[anchor=base west, inner sep=0pt, text=white!92!red, font=\fontsize{19}{20}\selectfont] at (45,24.5) {www.instaforex};
\node[anchor=base west, inner sep=0pt, text=white!92!red, font=\fontsize{12.5}{14}\selectfont] at (192,24.5) {.com};
\node[anchor=base west, inner sep=0pt, text=white!92!red, font=\fontsize{14}{16}\selectfont] at (227,24.5) {]};
\end{tikzpicture}
\end{document}
